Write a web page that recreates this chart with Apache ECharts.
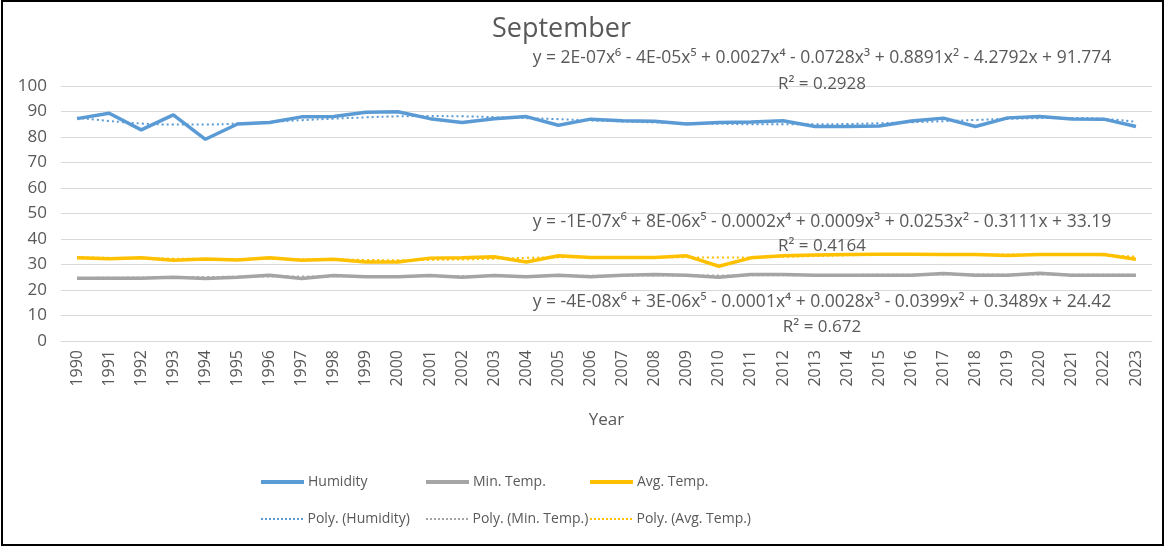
<!DOCTYPE html>
<html>
<head>
<meta charset="utf-8">
<script src="https://cdn.jsdelivr.net/npm/echarts@6/dist/echarts.min.js"></script>
<style>
  html, body { margin:0; padding:0; background:#fff; }
  #chart { width:1166px; height:547px; }
</style>
</head>
<body>
<div id="chart"></div>
<script>
var years = ['1990','1991','1992','1993','1994','1995','1996','1997','1998','1999','2000','2001','2002','2003','2004','2005','2006','2007','2008','2009','2010','2011','2012','2013','2014','2015','2016','2017','2018','2019','2020','2021','2022','2023'];

var humidity = [87.2, 89.3, 82.8, 88.7, 79.1, 85.1, 85.7, 87.9, 88.0, 89.7, 89.9, 87.2, 85.7, 87.2, 88.0, 84.6, 87.0, 86.4, 86.2, 85.1, 85.7, 85.9, 86.4, 84.1, 84.1, 84.3, 86.3, 87.4, 84.1, 87.5, 88.0, 87.1, 87.0, 84.1];
var minTemp = [24.6, 24.6, 24.6, 25.0, 24.5, 25.0, 25.8, 24.5, 25.7, 25.2, 25.2, 25.7, 25.0, 25.7, 25.2, 25.8, 25.2, 25.8, 26.1, 25.8, 25.0, 26.1, 26.1, 25.8, 25.8, 25.8, 25.8, 26.5, 25.8, 25.8, 26.6, 25.8, 25.8, 25.8];
var avgTemp = [32.6, 32.3, 32.6, 31.7, 32.2, 31.8, 32.6, 31.7, 32.1, 31.0, 31.0, 32.5, 32.6, 33.0, 31.0, 33.4, 32.7, 32.7, 32.7, 33.4, 29.3, 32.6, 33.4, 33.7, 33.9, 34.0, 34.0, 33.9, 33.9, 33.5, 33.9, 33.9, 33.9, 32.1];

// poly trendlines
var humTrend = [87.6, 86.3, 85.3, 84.9, 84.9, 85.3, 85.9, 86.6, 87.2, 87.7, 88.1, 88.2, 88.1, 87.8, 87.4, 87.0, 86.5, 86.1, 85.7, 85.4, 85.2, 85.0, 85.0, 85.0, 85.1, 85.4, 85.8, 86.2, 86.7, 87.1, 87.4, 87.5, 87.1, 86.0];
var minTrend = [24.7, 24.8, 24.9, 25.0, 25.1, 25.2, 25.3, 25.3, 25.4, 25.4, 25.4, 25.5, 25.5, 25.5, 25.5, 25.5, 25.6, 25.6, 25.7, 25.7, 25.7, 25.8, 25.8, 25.9, 25.9, 26.0, 26.0, 26.1, 26.1, 26.1, 26.1, 26.0, 26.0, 25.9];
var avgTrend = [32.9, 32.6, 32.4, 32.3, 32.2, 32.2, 32.2, 32.1, 32.0, 31.8, 31.7, 31.8, 32.0, 32.3, 32.6, 32.8, 32.9, 32.9, 32.9, 32.8, 32.7, 32.8, 33.0, 33.3, 33.6, 33.8, 33.9, 34.0, 33.9, 33.9, 33.8, 33.8, 33.6, 33.1];

var equations = [
  'y = 2E-07x⁶ - 4E-05x⁵ + 0.0027x⁴ - 0.0728x³ + 0.8891x² - 4.2792x + 91.774',
  'y = -1E-07x⁶ + 8E-06x⁵ - 0.0002x⁴ + 0.0009x³ + 0.0253x² - 0.3111x + 33.19',
  'y = -4E-08x⁶ + 3E-06x⁵ - 0.0001x⁴ + 0.0028x³ - 0.0399x² + 0.3489x + 24.42'
];
var rSquared = ['R² = 0.2928', 'R² = 0.4164', 'R² = 0.672'];

var font = 'Open Sans';
var grey = '#595959';

var chart = echarts.init(document.getElementById('chart'));

var graphics = [{
  type: 'rect',
  shape: { x: 2, y: 1, width: 1161, height: 544 },
  style: { fill: 'none', stroke: '#000', lineWidth: 2 },
  z: 100
}];
var eqY = [58, 222, 302], rY = [84, 246, 327];
equations.forEach(function (t, i) {
  graphics.push({
    type: 'text', x: 822, y: eqY[i], z: 50,
    style: { text: t, fill: grey, font: '17.5px ' + font, textAlign: 'center', textVerticalAlign: 'middle' }
  });
  graphics.push({
    type: 'text', x: 822, y: rY[i], z: 50,
    style: { text: rSquared[i], fill: grey, font: '17px ' + font, textAlign: 'center', textVerticalAlign: 'middle' }
  });
});

// dotted legend icon
var dots = '';
for (var k = 0; k < 11; k++) dots += 'M' + (k * 4) + ',0h2v2h-2z';
var dotIcon = 'path://' + dots;
var solidIcon = 'path://M0,0h43v4h-43z';

function mainLine(name, data, color) {
  return {
    name: name, type: 'line', data: data, symbol: 'none',
    lineStyle: { color: color, width: 3.5 }, itemStyle: { color: color },
    z: 3
  };
}
function trendLine(name, data, color) {
  return {
    name: name, type: 'line', data: data, symbol: 'none', smooth: true,
    lineStyle: { color: color, width: 2, type: [2, 3] }, itemStyle: { color: color },
    z: 4
  };
}

var legendNames = [['Humidity', 'Min. Temp.', 'Avg. Temp.'], ['Poly. (Humidity)', 'Poly. (Min. Temp.)', 'Poly. (Avg. Temp.)']];
var legendLeft = [256, 421, 585];
var legends = [];
legendNames.forEach(function (row, r) {
  row.forEach(function (n, c) {
    legends.push({
      data: [{ name: n, icon: r === 0 ? solidIcon : dotIcon }],
      left: legendLeft[c], top: r === 0 ? 470 : 507,
      itemWidth: 43, itemHeight: r === 0 ? 4 : 2, itemGap: 0,
      textStyle: { color: grey, fontSize: 14, fontFamily: font, padding: [0, 0, 0, -1] }
    });
  });
});

chart.setOption({
  animation: false,
  title: {
    text: 'September', left: 487, top: 11,
    textStyle: { color: grey, fontSize: 27, fontWeight: 'normal', fontFamily: font }
  },
  grid: { left: 61, right: 14, top: 86, bottom: 206 },
  legend: legends,
  xAxis: {
    type: 'category', data: years, boundaryGap: true,
    name: 'Year', nameLocation: 'middle', nameGap: 71,
    nameTextStyle: { color: grey, fontSize: 17, fontFamily: font },
    axisLine: { lineStyle: { color: '#d9d9d9' } },
    axisTick: { show: false },
    axisLabel: { rotate: 90, color: grey, fontSize: 16, fontFamily: font, interval: 0, margin: 9 }
  },
  yAxis: {
    type: 'value', min: 0, max: 100, interval: 10,
    axisLine: { show: false }, axisTick: { show: false },
    axisLabel: { color: grey, fontSize: 17, fontFamily: font, margin: 14 },
    splitLine: { lineStyle: { color: '#d9d9d9' } }
  },
  graphic: graphics,
  series: [
    mainLine('Humidity', humidity, '#5b9bd5'),
    mainLine('Min. Temp.', minTemp, '#a5a5a5'),
    mainLine('Avg. Temp.', avgTemp, '#ffc000'),
    trendLine('Poly. (Humidity)', humTrend, '#5b9bd5'),
    trendLine('Poly. (Min. Temp.)', minTrend, '#a5a5a5'),
    trendLine('Poly. (Avg. Temp.)', avgTrend, '#ffc000')
  ]
});
</script>
</body>
</html>
